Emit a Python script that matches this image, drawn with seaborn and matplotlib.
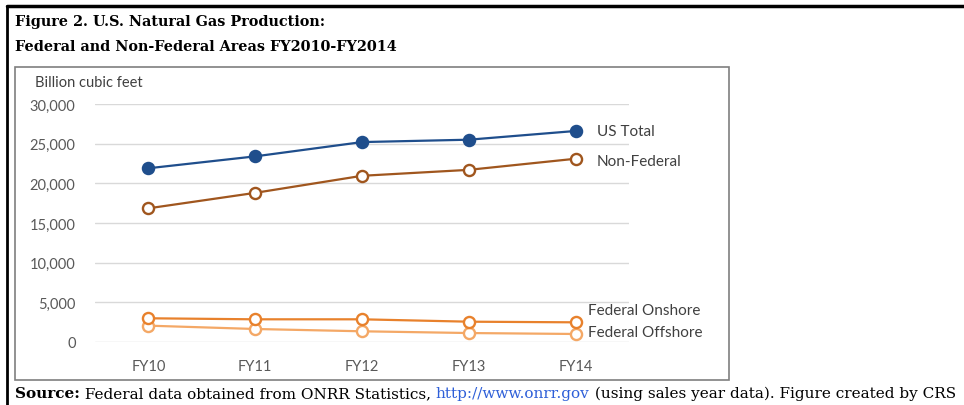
import pandas as pd
import matplotlib
matplotlib.use('Agg')
import matplotlib.pyplot as plt
import seaborn as sns
from matplotlib.patches import Rectangle
from matplotlib.lines import Line2D

# values (billion cubic feet)
years = ['FY10', 'FY11', 'FY12', 'FY13', 'FY14']
us_total = [21900, 23400, 25200, 25500, 26600]
non_federal = [16850, 18800, 20950, 21700, 23100]
fed_onshore = [2990, 2860, 2860, 2560, 2480]
fed_offshore = [2060, 1640, 1350, 1130, 1010]
y_ticks = [0, 5000, 10000, 15000, 20000, 25000, 30000]

series_names = ['US Total', 'Non-Federal', 'Federal Onshore', 'Federal Offshore']
colors = ['#1F4E8C', '#A0561E', '#E8812C', '#F4A866']
filled = [True, False, False, False]

df = pd.DataFrame({'Year': years * 4,
                   'Series': [n for n in series_names for _ in years],
                   'Value': us_total + non_federal + fed_onshore + fed_offshore})

sns.set_style('white')
plt.rcParams['font.family'] = ['Lato', 'DejaVu Sans']

fig = plt.figure(figsize=(9.64, 4.06), dpi=100)
W, H = 964, 406
ax = fig.add_axes([95 / W, 1 - 343 / H, (629 - 95) / W, (343 - 105) / H])

# draw order: federal first so totals sit on top
for name, c, f in reversed(list(zip(series_names, colors, filled))):
    sub = df[df['Series'] == name]
    sns.lineplot(data=sub, x='Year', y='Value', ax=ax, color=c, linewidth=1.6,
                 marker='o', markersize=8, markeredgewidth=1.7,
                 markerfacecolor=c if f else 'white', markeredgecolor=c,
                 clip_on=False, legend=False)

ax.set_xlim(-0.5, 4.5)
ax.set_ylim(0, 30000)
ax.set_yticks(y_ticks)
ax.set_yticklabels([f'{v:,}' for v in y_ticks])
ax.set_xlabel('')
ax.set_ylabel('')
for s in ax.spines.values():
    s.set_visible(False)
ax.yaxis.grid(True, color='#D9D9D9', linewidth=1)
ax.set_axisbelow(True)
ax.tick_params(axis='both', length=0, labelsize=10.5, labelcolor='#595959')
ax.tick_params(axis='y', pad=14)
ax.tick_params(axis='x', pad=12)

# series labels at the right end
label_pos = [(597, 132), (597, 162), (588, 311), (588, 333)]
for name, (px, py) in zip(series_names, label_pos):
    fig.text(px / W, 1 - py / H, name, fontsize=11, color='#404040', va='center', ha='left')

fig.text(35 / W, 1 - 83 / H, 'Billion cubic feet', fontsize=10.5, color='#404040', va='center')

# inner chart frame
fig.add_artist(Rectangle((15 / W, 1 - 381 / H), (729 - 15) / W, (381 - 68) / H,
                         transform=fig.transFigure, fill=False, edgecolor='#7F7F7F', linewidth=1.2))
# outer border (left and top)
fig.add_artist(Line2D([7 / W, 7 / W], [0, 1 - 7 / H], transform=fig.transFigure, color='black', linewidth=2))
fig.add_artist(Line2D([7 / W, 1], [1 - 7 / H, 1 - 7 / H], transform=fig.transFigure, color='black', linewidth=2.5))

title_font = dict(family='DejaVu Serif', fontweight='bold', fontsize=10.4, color='black', va='center')
fig.text(15 / W, 1 - 22 / H, 'Figure 2. U.S. Natural Gas Production:', **title_font)
fig.text(15 / W, 1 - 47 / H, 'Federal and Non-Federal Areas FY2010-FY2014', **title_font)

# source line, built from pieces
fig.canvas.draw()
renderer = fig.canvas.get_renderer()
x = 15
pieces = [('Source:', 'bold', 'black'),
          (' Federal data obtained from ONRR Statistics, ', 'normal', 'black'),
          ('http://www.onrr.gov', 'normal', '#2E5FD8'),
          (' (using sales year data). Figure created by CRS', 'normal', 'black')]
for txt, wt, c in pieces:
    t = fig.text(x / W, 1 - 394 / H, txt, family='DejaVu Serif', fontweight=wt,
                 fontsize=11, color=c, va='center')
    bb = t.get_window_extent(renderer)
    x += bb.width

fig.savefig('out.png', dpi=100)
